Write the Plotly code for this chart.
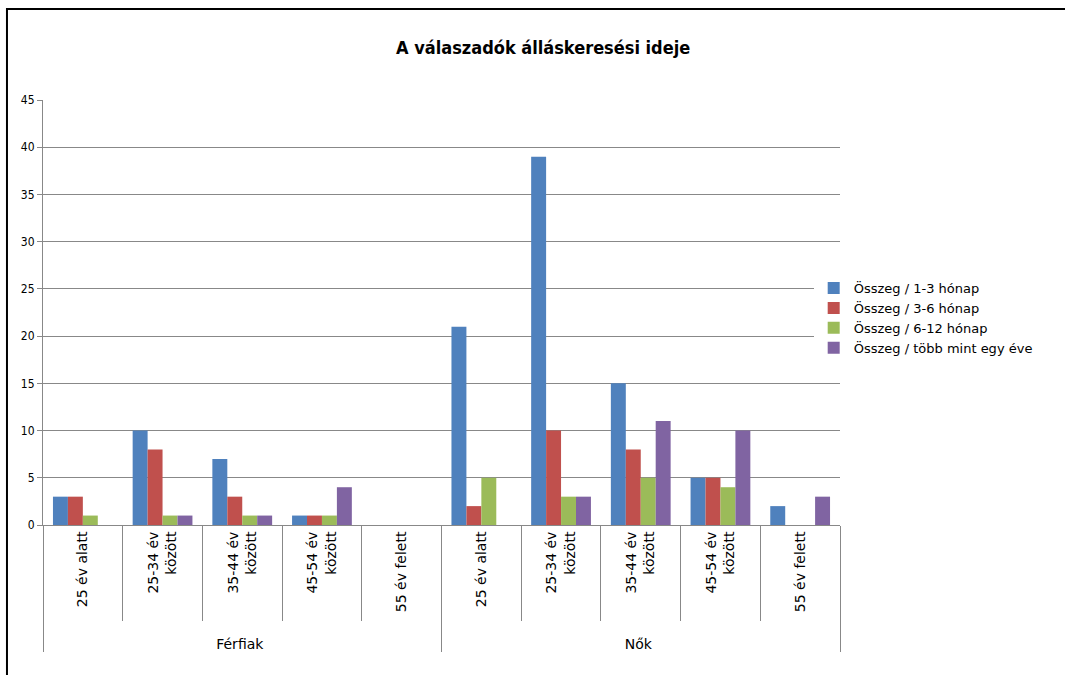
import plotly.graph_objects as go

groups = ["Férfiak"] * 5 + ["Nők"] * 5
ages = ["25 év alatt", "25-34 év<br>között", "35-44 év<br>között", "45-54 év<br>között", "55 év felett"] * 2

series_names = ["Összeg / 1-3 hónap", "Összeg / 3-6 hónap", "Összeg / 6-12 hónap", "Összeg / több mint egy éve"]
s1 = [3, 10, 7, 1, 0, 21, 39, 15, 5, 2]
s2 = [3, 8, 3, 1, 0, 2, 10, 8, 5, 0]
s3 = [1, 1, 1, 1, 0, 5, 3, 5, 4, 0]
s4 = [0, 1, 1, 4, 0, 0, 3, 11, 10, 3]
colors = ["#4F81BD", "#C0504D", "#9BBB59", "#8064A2"]

# small leading pad so the inner labels occupy the same depth as in the original
ages_padded = ["\u00a0\u00a0" + a for a in ages]

fig = go.Figure()
for name, vals, c in zip(series_names, [s1, s2, s3, s4], colors):
    fig.add_trace(go.Bar(x=[groups, ages_padded], y=vals, name=name, marker=dict(color=c, line=dict(width=0))))

fig.update_layout(
    width=1065, height=675,
    margin=dict(l=43, r=225, t=100, b=150),
    paper_bgcolor="white", plot_bgcolor="white",
    barmode="group", bargap=0.25, bargroupgap=0,
    title=dict(text="<b>A válaszadók álláskeresési ideje</b>", x=0.51, xanchor="center",
               y=0.93, yanchor="middle", font=dict(family="DejaVu Sans Condensed", size=18, color="black")),
    font=dict(family="DejaVu Sans", size=10, color="black"),
    legend=dict(x=0.967, xanchor="left", y=0.487, yanchor="middle",
                font=dict(family="DejaVu Sans", size=13),
                tracegroupgap=0, itemwidth=30),
    showlegend=True,
)
fig.update_yaxes(range=[0, 45], dtick=5, showgrid=True, gridcolor="#888888", gridwidth=1,
                 showline=True, linecolor="#888888", ticks="outside", ticklen=5, tickcolor="#888888",
                 tickfont=dict(size=12, family="DejaVu Sans Condensed"), zeroline=False)
fig.update_xaxes(type="multicategory", showline=True, linecolor="#888888", ticks="outside",
                 tickson="boundaries", ticklen=95, tickcolor="#888888", tickangle=-90,
                 showdividers=True, dividercolor="#888888", dividerwidth=1,
                 tickfont=dict(size=14, family="DejaVu Sans"))
fig.add_shape(type="rect", xref="paper", yref="paper", x0=-0.0452, x1=1.289, y0=-0.365, y1=1.2141,
              line=dict(color="black", width=2), fillcolor="rgba(0,0,0,0)", layer="below")
fig.write_html("out.html")
